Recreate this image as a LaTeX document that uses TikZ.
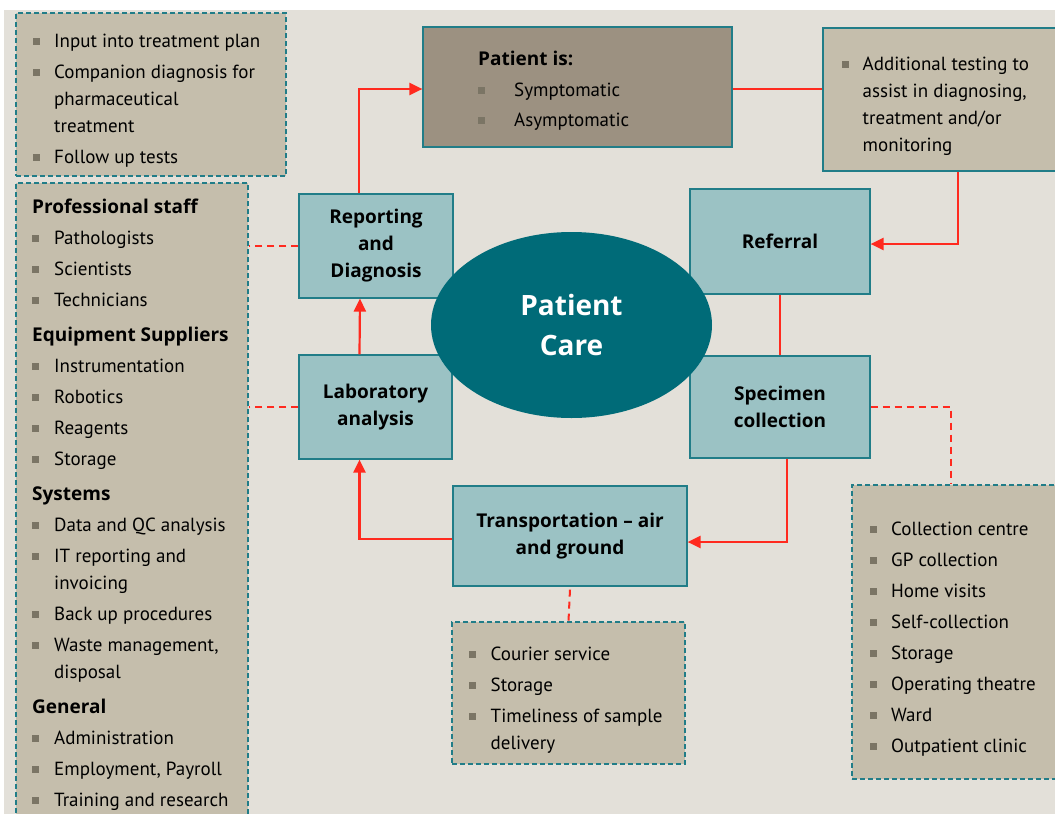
\documentclass[tikz,border=0pt]{standalone}
\usepackage{fontspec}
\setmainfont{PT Sans}
\newfontfamily\headfont[Ligatures=TeX]{Open Sans}
\usetikzlibrary{arrows.meta,shapes.geometric}

\definecolor{pagebg}{HTML}{E3E0D9}
\definecolor{tanfill}{HTML}{C5BEAC}
\definecolor{statusfill}{HTML}{9C9181}
\definecolor{stagefill}{HTML}{9BC2C4}
\definecolor{carefill}{HTML}{006B78}
\definecolor{tealline}{HTML}{217D88}
\definecolor{flowred}{HTML}{FF2A1F}
\definecolor{bulgray}{HTML}{7B7565}

\newcommand{\bul}{\textcolor{bulgray}{\rule[2.5pt]{7pt}{7pt}}}
\newcommand{\hd}[1]{\multicolumn{2}{@{}l@{}}{\headfont\bfseries #1}}
\newcommand{\listfont}{\fontsize{19}{27}\selectfont}

\begin{document}
\begin{tikzpicture}[x=1pt, y=-1pt,
  stagebox/.style={draw=tealline, line width=1.2pt, fill=stagefill, align=center,
    font=\fontsize{19}{27}\selectfont\headfont\bfseries, inner sep=0pt},
  infobox/.style={draw=tealline, line width=1.8pt, dash pattern=on 5pt off 3pt, fill=tanfill, inner sep=0pt},
  listtext/.style={anchor=base west, inner sep=0pt, font=\listfont},
  flow/.style={draw=flowred, line width=2.2pt, -{Triangle[length=13pt,width=12pt]}},
  link/.style={draw=flowred, line width=2pt},
  dashlink/.style={draw=flowred, line width=2pt, dash pattern=on 7pt off 5pt}]
  \useasboundingbox (0,0) rectangle (1055,814);
  \fill[pagebg] (4,10) rectangle (1060,820);

  % side boxes
  \node[infobox, minimum width=270pt, minimum height=163pt] (followup) at (151,94.5) {};
  \node[infobox, minimum width=232pt, minimum height=647pt] (staff) at (132,506.5) {};
  \node[draw=tealline, line width=1.2pt, fill=statusfill, minimum width=309pt, minimum height=120pt] (status) at (577.5,87) {};
  \node[draw=tealline, line width=1.8pt, fill=tanfill, minimum width=270pt, minimum height=143pt] (extra) at (958,99.5) {};
  \node[infobox, minimum width=206pt, minimum height=294pt] (sites) at (955,632) {};
  \node[infobox, minimum width=233pt, minimum height=142pt] (courier) at (568.5,693) {};

  \node[listtext] (followuptext) at (33,47.5) {\begin{tabular}[t]{@{}p{21pt}@{}l@{}}
    \bul & Input into treatment plan\\[4pt]
    \bul & Companion diagnosis for\\
         & pharmaceutical\\
         & treatment\\[4pt]
    \bul & Follow up tests
  \end{tabular}};
  \node[listtext] (stafftext) at (32,213) {\begin{tabular}[t]{@{}p{22pt}@{}l@{}}
    \hd{Professional staff}\\[4pt]
    \bul & Pathologists\\[4pt]
    \bul & Scientists\\[4pt]
    \bul & Technicians\\[8pt]
    \hd{Equipment Suppliers}\\[4pt]
    \bul & Instrumentation\\[4pt]
    \bul & Robotics\\[4pt]
    \bul & Reagents\\[4pt]
    \bul & Storage\\[8pt]
    \hd{Systems}\\[4pt]
    \bul & Data and QC analysis\\[4pt]
    \bul & IT reporting and\\
         & invoicing\\[4pt]
    \bul & Back up procedures\\[4pt]
    \bul & Waste management,\\
         & disposal\\[8pt]
    \hd{General}\\[4pt]
    \bul & Administration\\[4pt]
    \bul & Employment, Payroll\\[4pt]
    \bul & Training and research
  \end{tabular}};
  \node[listtext] (statustext) at (478,65) {\begin{tabular}[t]{@{}p{36pt}@{}l@{}}
    \hd{Patient is:}\\[4pt]
    \bul & Symptomatic\\[3pt]
    \bul & Asymptomatic
  \end{tabular}};
  \node[listtext] (extratext) at (842,70.7) {\begin{tabular}[t]{@{}p{20.5pt}@{}l@{}}
    \bul & Additional testing to\\
         & assist in diagnosing,\\
         & treatment and/or\\
         & monitoring
  \end{tabular}};
  \node[listtext] (sitestext) at (870,535) {\begin{tabular}[t]{@{}p{21pt}@{}l@{}}
    \bul & Collection centre\\[4pt]
    \bul & GP collection\\[4pt]
    \bul & Home visits\\[4pt]
    \bul & Self-collection\\[4pt]
    \bul & Storage\\[4pt]
    \bul & Operating theatre\\[4pt]
    \bul & Ward\\[4pt]
    \bul & Outpatient clinic
  \end{tabular}};
  \node[listtext] (couriertext) at (469,660) {\begin{tabular}[t]{@{}p{21.5pt}@{}l@{}}
    \bul & Courier service\\[4pt]
    \bul & Storage\\[4pt]
    \bul & Timeliness of sample\\
         & delivery
  \end{tabular}};

  % cycle
  \node[stagebox, minimum width=154pt, minimum height=104pt] (report) at (376,246) {Reporting\\and\\Diagnosis};
  \node[stagebox, minimum width=153pt, minimum height=104pt] (lab) at (375.5,407) {Laboratory\\analysis};
  \node[stagebox, minimum width=180pt, minimum height=105pt] (referral) at (780,241.5) {Referral};
  \node[stagebox, minimum width=180pt, minimum height=102pt] (specimen) at (780,407) {Specimen\\collection};
  \node[stagebox, minimum width=234pt, minimum height=100pt] (transport) at (570,536) {Transportation -- air\\and ground};
  \node[ellipse, fill=carefill, text=white, minimum width=281pt, minimum height=186pt, align=center,
    font=\fontsize{28}{40}\selectfont\headfont\bfseries] (care) at (571.5,325) {Patient\\Care};

  \draw[flow] ([xshift=-17pt]report.north) |- ([yshift=-2pt]status.west);
  \draw[link] ([yshift=-2pt]status.east) -- ([yshift=-2pt]status.east -| extra.west);
  \draw[flow] (extra.south) |- ([yshift=-2.5pt]referral.east);
  \draw[link] (referral.south) -- (specimen.north);
  \draw[flow] ([xshift=7pt]specimen.south) |- ([yshift=-6pt]transport.east);
  \draw[flow] ([yshift=-3pt]transport.west) -| ([xshift=-16pt]lab.south);
  \draw[flow] ([xshift=-16pt]lab.north) -- ([xshift=-16pt]report.south);
  \draw[dashlink] (report.west) -- (report.west -| staff.east);
  \draw[dashlink] (lab.west) -- (lab.west -| staff.east);
  \draw[dashlink] (specimen.east) -| ([xshift=-4pt]sites.north);
  \draw[dashlink] ([yshift=-3pt]transport.south) -- (courier.north);
\end{tikzpicture}
\end{document}
